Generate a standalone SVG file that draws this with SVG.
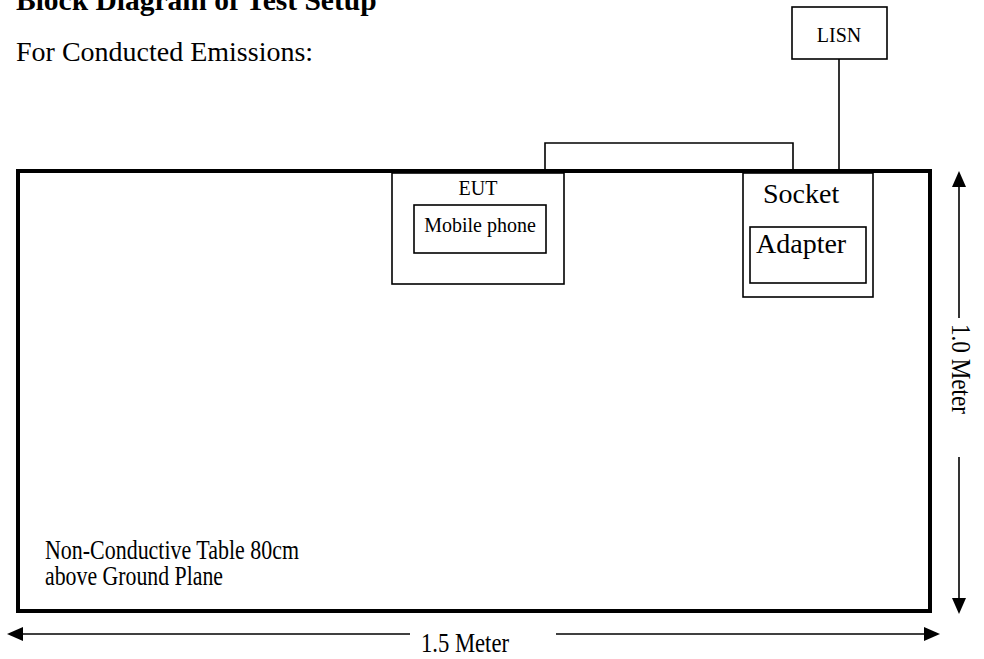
<svg xmlns="http://www.w3.org/2000/svg" width="984" height="659" viewBox="0 0 984 659">
<style>
text{font-family:"Liberation Serif","Times New Roman",serif;fill:#000}
.big{font-size:28px}
.small{font-size:20px}
.title{font-size:29.5px;font-weight:bold}
.box{fill:#fff;stroke:#000;stroke-width:1.6}
.wire{fill:none;stroke:#000;stroke-width:1.6}
.dim{fill:none;stroke:#000;stroke-width:1.6}
.head{fill:#000;stroke:none}
</style>
<rect width="984" height="659" fill="#fff"/>
<text class="title" x="16" y="10">Block Diagram of Test Setup</text>
<text class="big" x="16" y="61">For Conducted Emissions:</text>

<g id="table">
<rect x="18" y="171" width="912" height="440" fill="none" stroke="#000" stroke-width="4"/>
<text class="big" x="45" y="559" textLength="254" lengthAdjust="spacingAndGlyphs">Non-Conductive Table 80cm</text>
<text class="big" x="45" y="585" textLength="178" lengthAdjust="spacingAndGlyphs">above Ground Plane</text>
</g>

<g id="eut">
<rect class="box" x="392" y="173" width="172" height="111"/>
<text class="small" x="478" y="195" text-anchor="middle">EUT</text>
<g id="mobile-phone">
<rect class="box" x="414" y="205" width="132" height="48"/>
<text class="small" x="480" y="232" text-anchor="middle">Mobile phone</text>
</g>
</g>

<g id="socket">
<rect class="box" x="743" y="173" width="130" height="124"/>
<text class="big" x="763" y="203">Socket</text>
<g id="adapter">
<rect class="box" x="750" y="227" width="116" height="56"/>
<text class="big" x="756" y="253">Adapter</text>
</g>
</g>

<g id="lisn">
<rect class="box" x="792" y="7" width="95" height="52"/>
<text class="small" x="839" y="42" text-anchor="middle">LISN</text>
</g>

<g id="connectors">
<polyline class="wire" points="545,170 545,143 793,143 793,170"/>
<line class="wire" x1="839" y1="59" x2="839" y2="170"/>
</g>

<g id="dimensions">
<line class="dim" x1="20" y1="634" x2="410" y2="634"/>
<line class="dim" x1="556" y1="634" x2="927" y2="634"/>
<polygon class="head" points="7,634 23,627 23,641"/>
<polygon class="head" points="940,634 924,627 924,641"/>
<text class="big" x="421" y="652" textLength="88" lengthAdjust="spacingAndGlyphs">1.5 Meter</text>
<line class="dim" x1="959" y1="185" x2="959" y2="318"/>
<line class="dim" x1="959" y1="457" x2="959" y2="600"/>
<polygon class="head" points="959,171 952,187 966,187"/>
<polygon class="head" points="959,614 952,598 966,598"/>
<text class="big" transform="translate(952,324) rotate(90)" textLength="90" lengthAdjust="spacingAndGlyphs">1.0 Meter</text>
</g>
</svg>
